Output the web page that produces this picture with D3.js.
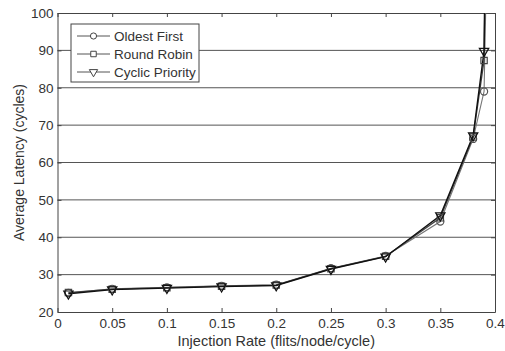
<!DOCTYPE html>
<html>
<head>
<meta charset="utf-8">
<script src="https://cdn.jsdelivr.net/npm/d3@7"></script>
<style>
  body { margin: 0; background: #fff; }
  svg { display: block; font-family: "Liberation Sans", Arial, sans-serif; }
</style>
</head>
<body>
<svg id="chart" width="505" height="351"></svg>
<script>
// injection rates (flits/node/cycle); last point sits past the top of the plot
const rates = [0.01, 0.05, 0.1, 0.15, 0.2, 0.25, 0.3, 0.35, 0.38, 0.39];
const oldestFirst  = [25.1, 26.2, 26.6, 27.0, 27.3, 31.7, 35.0, 44.2, 66.3, 79.0];
const roundRobin   = [25.2, 26.1, 26.5, 26.9, 27.2, 31.6, 34.9, 45.2, 66.8, 87.3];
const cyclicPrio   = [24.9, 26.0, 26.4, 26.8, 27.1, 31.5, 34.8, 45.8, 67.2, 89.8];
// where each curve leaves the plot (beyond y = 100)
const exitRates = [0.3935, 0.392, 0.3915];
const exitValue = 130;

const xTicks = [0, 0.05, 0.1, 0.15, 0.2, 0.25, 0.3, 0.35, 0.4];
const yTicks = [20, 30, 40, 50, 60, 70, 80, 90, 100];

const series = [
  { name: "Oldest First",    values: oldestFirst, symbol: "circle",   color: "#777", width: 1.1 },
  { name: "Round Robin",     values: roundRobin,  symbol: "square",   color: "#444", width: 1.3 },
  { name: "Cyclic Priority", values: cyclicPrio,  symbol: "triangle", color: "#111", width: 1.4 }
];

const width = 505, height = 351;
const margin = { top: 13, right: 10, bottom: 39, left: 57.5 };
const innerW = width - margin.left - margin.right;
const innerH = height - margin.top - margin.bottom;

const svg = d3.select("#chart");
const g = svg.append("g").attr("transform", `translate(${margin.left},${margin.top})`);

const x = d3.scaleLinear().domain([0, 0.4]).range([0, innerW]);
const y = d3.scaleLinear().domain([20, 100]).range([innerH, 0]);

g.append("rect").attr("width", innerW).attr("height", innerH).attr("fill", "#fff");

// horizontal grid
g.append("g")
  .selectAll("line")
  .data(yTicks.slice(1, -1))
  .join("line")
  .attr("x1", 0).attr("x2", innerW)
  .attr("y1", d => y(d)).attr("y2", d => y(d))
  .attr("stroke", "#555").attr("stroke-width", 1);

// axes
const xAxis = g.append("g").attr("transform", `translate(0,${innerH})`)
  .call(d3.axisBottom(x).tickValues(xTicks).tickFormat(d3.format("~g")).tickSizeInner(-4).tickSizeOuter(0).tickPadding(6));
const xTop = g.append("g")
  .call(d3.axisTop(x).tickValues(xTicks).tickFormat("").tickSizeInner(-4).tickSizeOuter(0));
const yAxis = g.append("g")
  .call(d3.axisLeft(y).tickValues(yTicks).tickSizeInner(-4).tickSizeOuter(0).tickPadding(4));
const yRight = g.append("g").attr("transform", `translate(${innerW},0)`)
  .call(d3.axisRight(y).tickValues(yTicks).tickFormat("").tickSizeInner(-4).tickSizeOuter(0));

[xAxis, xTop, yAxis, yRight].forEach(a => {
  a.select(".domain").attr("stroke", "#444");
  a.selectAll(".tick line").attr("stroke", "#444");
  a.selectAll("text").attr("fill", "#333").style("font-size", "13.5px");
});

// clip for curves
svg.append("defs").append("clipPath").attr("id", "clip")
  .append("rect").attr("width", innerW).attr("height", innerH);

const line = d3.line().x(d => x(d[0])).y(d => y(d[1]));
const symbolType = { circle: d3.symbolCircle, square: d3.symbolSquare, triangle: d3.symbolTriangle };
const symbolPath = (s, size) => d3.symbol().type(symbolType[s]).size(size)();

const plot = g.append("g").attr("clip-path", "url(#clip)");

series.forEach((s, i) => {
  const pts = rates.map((r, j) => [r, s.values[j]]);
  pts.push([exitRates[i], exitValue]);
  plot.append("path")
    .datum(pts)
    .attr("fill", "none")
    .attr("stroke", s.color)
    .attr("stroke-width", s.width)
    .attr("d", line);
});

series.forEach(s => {
  const size = s.symbol === "triangle" ? 38 : 40;
  plot.append("g")
    .selectAll("path")
    .data(rates.map((r, j) => [r, s.values[j]]))
    .join("path")
    .attr("transform", d => `translate(${x(d[0])},${y(d[1])})` + (s.symbol === "triangle" ? " rotate(180)" : ""))
    .attr("d", symbolPath(s.symbol, size))
    .attr("fill", "none")
    .attr("stroke", s.symbol === "circle" ? "#555" : s.color)
    .attr("stroke-width", 1.2);
});

// legend
const leg = svg.append("g").attr("transform", "translate(71,24)");
leg.append("rect").attr("width", 128).attr("height", 58)
  .attr("fill", "#fff").attr("stroke", "#444").attr("stroke-width", 1);
series.forEach((s, i) => {
  const ly = 12 + i * 18;
  const row = leg.append("g").attr("transform", `translate(0,${ly})`);
  row.append("line").attr("x1", 6).attr("x2", 39).attr("y1", 0).attr("y2", 0)
    .attr("stroke", "#555").attr("stroke-width", 1);
  row.append("path")
    .attr("transform", "translate(22.5,0)" + (s.symbol === "triangle" ? " rotate(180)" : ""))
    .attr("d", symbolPath(s.symbol, 30))
    .attr("fill", "#fff").attr("stroke", "#444").attr("stroke-width", 1);
  row.append("text").attr("x", 43).attr("y", 0).attr("dy", "0.35em")
    .attr("fill", "#333").style("font-size", "13.5px").text(s.name);
});

// axis titles
svg.append("text")
  .attr("x", margin.left + innerW / 2).attr("y", 346)
  .attr("text-anchor", "middle").attr("fill", "#333").style("font-size", "14.5px")
  .text("Injection Rate (flits/node/cycle)");
svg.append("text")
  .attr("transform", `translate(24,${margin.top + innerH / 2}) rotate(-90)`)
  .attr("text-anchor", "middle").attr("fill", "#333").style("font-size", "14px")
  .text("Average Latency (cycles)");
</script>
</body>
</html>
